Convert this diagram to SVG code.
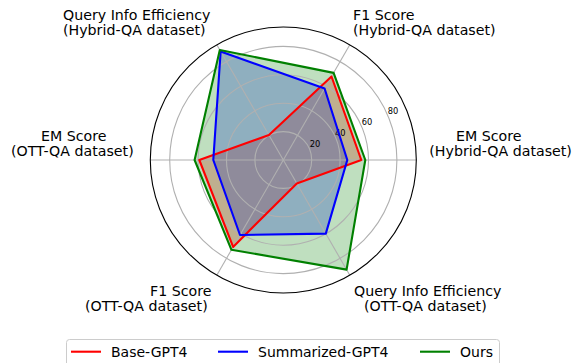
<svg xmlns="http://www.w3.org/2000/svg" width="579" height="363" viewBox="0 0 579 363">
<style>
text{font-family:"DejaVu Sans",sans-serif;fill:#000}
.lbl{font-size:14.2px}
.tick{font-size:8.3px;text-anchor:middle}
.grid{fill:none;stroke:#b0b0b0;stroke-width:1.1}
.ser{fill:none;stroke-width:2.1;stroke-linejoin:round}
.leg{font-size:14px}
</style>
<rect width="579" height="363" fill="#fff"/>
<g id="fills">
<polygon points="361.3,160 331.5,76.5 268.95,135.1 199.3,160 233.1,246.9 296.8,183.4" fill="#ff0000" fill-opacity="0.25"/>
<polygon points="347.3,160 324.6,88.5 220.65,51.5 213.3,160 240,235 325.8,233.6" fill="#0000ff" fill-opacity="0.25"/>
<polygon points="365.3,160 333.6,72.9 219.8,50 194.6,160 231.45,249.8 346.6,269.6" fill="#008000" fill-opacity="0.25"/>
</g>
<g id="grid">
<circle class="grid" cx="283.3" cy="160" r="28.4"/>
<circle class="grid" cx="283.3" cy="160" r="56.8"/>
<circle class="grid" cx="283.3" cy="160" r="85.2"/>
<circle class="grid" cx="283.3" cy="160" r="113.6"/>
<line class="grid" x1="283.3" y1="160" x2="416.3" y2="160"/>
<line class="grid" x1="283.3" y1="160" x2="349.8" y2="44.8"/>
<line class="grid" x1="283.3" y1="160" x2="216.8" y2="44.8"/>
<line class="grid" x1="283.3" y1="160" x2="150.3" y2="160"/>
<line class="grid" x1="283.3" y1="160" x2="216.8" y2="275.2"/>
<line class="grid" x1="283.3" y1="160" x2="349.8" y2="275.2"/>
<circle cx="283.3" cy="160" r="133" fill="none" stroke="#000" stroke-width="1.1"/>
</g>
<g id="ticks">
<text class="tick" x="315" y="147.3">20</text>
<text class="tick" x="340.3" y="136.3">40</text>
<text class="tick" x="367" y="125.3">60</text>
<text class="tick" x="393" y="114">80</text>
</g>
<g id="connectors">
<polygon id="base" class="ser" stroke="#ff0000" points="361.3,160 331.5,76.5 268.95,135.1 199.3,160 233.1,246.9 296.8,183.4"/>
<polygon id="summ" class="ser" stroke="#0000ff" points="347.3,160 324.6,88.5 220.65,51.5 213.3,160 240,235 325.8,233.6"/>
<polygon id="ours" class="ser" stroke="#008000" points="365.3,160 333.6,72.9 219.8,50 194.6,160 231.45,249.8 346.6,269.6"/>
</g>
<g id="label-qie-hybrid"><text class="lbl" x="63" y="19.5">Query Info Efficiency</text><text class="lbl" x="63" y="35">(Hybrid-QA dataset)</text></g>
<g id="label-f1-hybrid"><text class="lbl" x="353" y="19.5">F1 Score</text><text class="lbl" x="353" y="35">(Hybrid-QA dataset)</text></g>
<g id="label-em-ott"><text class="lbl" x="41" y="140.5">EM Score</text><text class="lbl" x="11" y="155.5">(OTT-QA dataset)</text></g>
<g id="label-em-hybrid"><text class="lbl" x="456" y="140.5">EM Score</text><text class="lbl" x="429.3" y="155.5">(Hybrid-QA dataset)</text></g>
<g id="label-f1-ott"><text class="lbl" x="150" y="296">F1 Score</text><text class="lbl" x="85" y="311">(OTT-QA dataset)</text></g>
<g id="label-qie-ott"><text class="lbl" x="354" y="296">Query Info Efficiency</text><text class="lbl" x="364" y="311">(OTT-QA dataset)</text></g>
<g id="legend">
<rect x="66.5" y="339.5" width="433" height="30" rx="3" fill="#fff" fill-opacity="0.8" stroke="#cccccc" stroke-width="1"/>
<line x1="71" y1="351.7" x2="101" y2="351.7" stroke="#ff0000" stroke-width="2.1"/>
<text class="leg" x="111" y="357">Base-GPT4</text>
<line x1="218" y1="351.7" x2="248" y2="351.7" stroke="#0000ff" stroke-width="2.1"/>
<text class="leg" x="258" y="357">Summarized-GPT4</text>
<line x1="420" y1="351.7" x2="450" y2="351.7" stroke="#008000" stroke-width="2.1"/>
<text class="leg" x="460" y="357">Ours</text>
</g>
</svg>
